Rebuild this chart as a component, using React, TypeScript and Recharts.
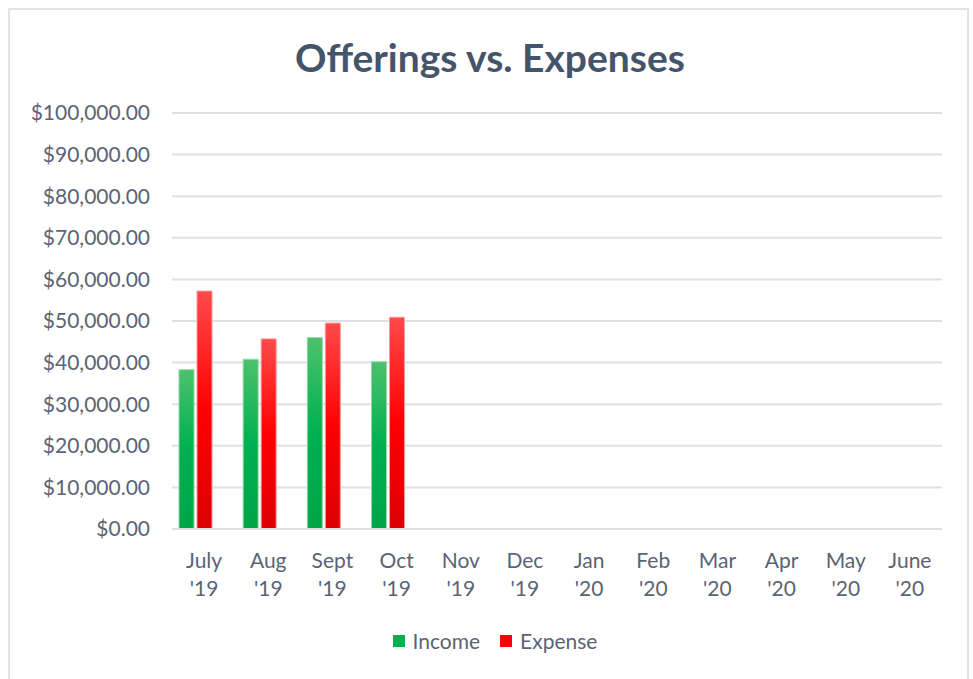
import { BarChart, Bar, XAxis, YAxis, CartesianGrid, Legend } from "recharts";

const MONTHS = [
  "July '19",
  "Aug '19",
  "Sept '19",
  "Oct '19",
  "Nov '19",
  "Dec '19",
  "Jan '20",
  "Feb '20",
  "Mar '20",
  "Apr '20",
  "May '20",
  "June '20",
];

const INCOME = [38300, 40800, 46000, 40200, null, null, null, null, null, null, null, null];
const EXPENSE = [57200, 45700, 49500, 50900, null, null, null, null, null, null, null, null];
// third series in the source sheet, empty so far (it keeps the bars left of centre)
const NET = [null, null, null, null, null, null, null, null, null, null, null, null];

const Y_TICKS = [0, 10000, 20000, 30000, 40000, 50000, 60000, 70000, 80000, 90000, 100000];

const data = MONTHS.map((m, i) => ({
  month: m,
  income: INCOME[i],
  expense: EXPENSE[i],
  net: NET[i],
}));

const FONT = "Lato, 'Open Sans', sans-serif";
const TEXT = "#5a6474";
const GRID = "#dde0e5";
const SWATCH: Record<string, string> = { income: "#00b050", expense: "#ff0000" };

const money = (v: number) =>
  "$" + v.toLocaleString("en-US", { minimumFractionDigits: 2, maximumFractionDigits: 2 });

function MonthTick(props: any) {
  const { x, y, payload } = props;
  const [a, b] = String(payload.value).split(" ");
  return (
    <g transform={`translate(${x},${y})`}>
      <text textAnchor="middle" fill={TEXT} fontSize={21} fontFamily={FONT}>
        <tspan x={0} dy={31}>{a}</tspan>
        <tspan x={0} dy={28}>{b}</tspan>
      </text>
    </g>
  );
}

function LegendBox(props: any) {
  const items = (props.payload || []).filter((p: any) => p.type !== "none");
  const order = ["income", "expense"];
  items.sort((a: any, b: any) => order.indexOf(a.dataKey) - order.indexOf(b.dataKey));
  return (
    <div style={{ display: "flex", justifyContent: "center", gap: 20, fontFamily: FONT, fontSize: 21, color: TEXT }}>
      {items.map((p: any) => (
        <div key={p.dataKey} style={{ display: "flex", alignItems: "center" }}>
          <span style={{ width: 12, height: 12, background: SWATCH[p.dataKey], marginRight: 8, display: "inline-block" }} />
          {p.value}
        </div>
      ))}
    </div>
  );
}

export default function App() {
  return (
    <div style={{ position: "absolute", left: 0, top: 0, width: 973, height: 679, background: "#fff" }}>
      <div
        style={{
          position: "absolute",
          left: 8,
          top: 8,
          width: 961,
          height: 680,
          border: "2px solid #dfe3ea",
          boxSizing: "border-box",
        }}
      />
      <div
        style={{
          position: "absolute",
          left: 0,
          top: 33,
          width: 980,
          textAlign: "center",
          fontFamily: FONT,
          fontWeight: 700,
          fontSize: 39,
          lineHeight: "48px",
          color: "#44546a",
        }}
      >
        Offerings vs. Expenses
      </div>
      <BarChart
        width={973}
        height={679}
        data={data}
        margin={{ top: 113, right: 31, left: 0, bottom: 55 }}
        barSize={15}
        barGap={3}
        style={{ position: "absolute", left: 0, top: 0 }}
      >
        <defs>
          <linearGradient id="gIncome" x1="0" y1="0" x2="0" y2="1">
            <stop offset="0%" stopColor="#4cc26c" />
            <stop offset="50%" stopColor="#00b050" />
            <stop offset="100%" stopColor="#00a548" />
          </linearGradient>
          <linearGradient id="gExpense" x1="0" y1="0" x2="0" y2="1">
            <stop offset="0%" stopColor="#ff4a4a" />
            <stop offset="50%" stopColor="#ff0000" />
            <stop offset="100%" stopColor="#dc0000" />
          </linearGradient>
        </defs>
        <CartesianGrid vertical={false} stroke={GRID} strokeWidth={2} />
        <XAxis
          dataKey="month"
          interval={0}
          height={70}
          tickLine={false}
          axisLine={{ stroke: GRID, strokeWidth: 2 }}
          tick={<MonthTick />}
        />
        <YAxis
          width={172}
          domain={[0, 100000]}
          ticks={Y_TICKS}
          tickFormatter={money}
          tickLine={false}
          axisLine={false}
          tickSize={0}
          tickMargin={22}
          tick={{ fill: TEXT, fontSize: 21, fontFamily: FONT }}
        />
        <Legend content={<LegendBox />} wrapperStyle={{ top: 628, left: 0, width: 990 }} />
        <Bar dataKey="income" name="Income" fill="url(#gIncome)" stroke="#8fd9a6" strokeWidth={1} isAnimationActive={false} />
        <Bar dataKey="expense" name="Expense" fill="url(#gExpense)" stroke="#ff9a9a" strokeWidth={1} isAnimationActive={false} />
        <Bar dataKey="net" name="Net" fill="#4472c4" legendType="none" isAnimationActive={false} />
      </BarChart>
    </div>
  );
}
